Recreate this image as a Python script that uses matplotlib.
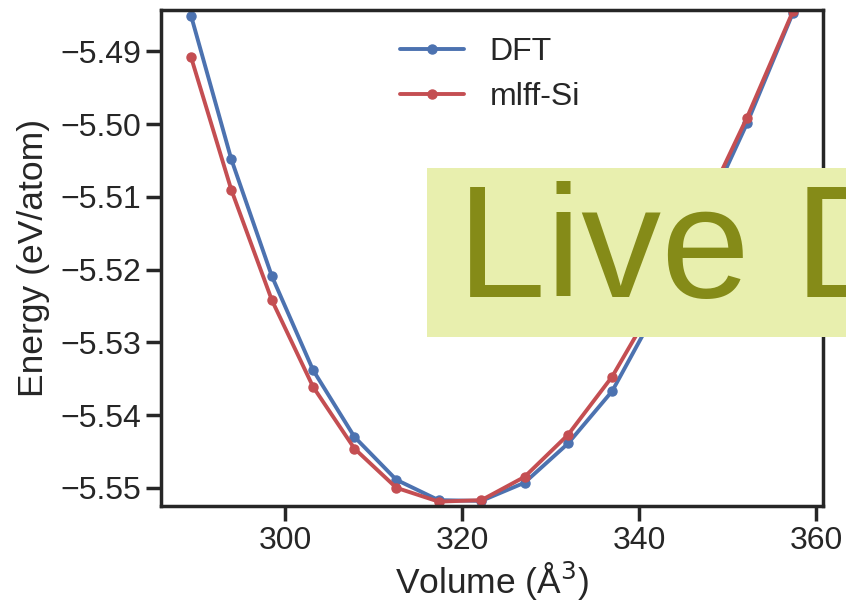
import matplotlib
matplotlib.use("Agg")
import matplotlib.pyplot as plt
import seaborn as sns
from matplotlib.patches import Rectangle

# equation of state scan
volume = [289.35, 293.89, 298.48, 303.13, 307.81, 312.55, 317.33, 322.16,
          327.04, 331.96, 336.95, 341.97, 347.06, 352.18, 357.37]
energy_dft = [-5.4851, -5.5048, -5.5209, -5.5338, -5.5430, -5.5489, -5.5517, -5.5518,
              -5.5493, -5.5439, -5.5367, -5.5255, -5.5134, -5.4999, -5.4847]
energy_mlff = [-5.4908, -5.5090, -5.5242, -5.5361, -5.5446, -5.5500, -5.5519, -5.5517,
               -5.5485, -5.5427, -5.5347, -5.5242, -5.5122, -5.4991, -5.4845]
labels = ["DFT", "mlff-Si"]
colors = ["#4C72B0", "#C44E52"]


def plot_eos():
    """
    Plot energy vs volume for DFT and the force field
    :return: None
    """
    sns.set_style("ticks")
    plt.rcParams["font.family"] = ["Liberation Sans", "DejaVu Sans"]
    plt.rcParams["axes.edgecolor"] = "#262626"

    fig = plt.figure(figsize=(8.46, 6.08), dpi=100)
    ax = fig.add_axes([0.1903, 0.1678, 0.7825, 0.8158])

    for ys, lab, col in zip([energy_dft, energy_mlff], labels, colors):
        ax.plot(volume, ys, "-o", color=col, label=lab, lw=2.8, ms=6.5)

    ax.set_ylim(-5.5525, -5.4843)
    ax.set_yticks([-5.55, -5.54, -5.53, -5.52, -5.51, -5.50, -5.49])
    ax.set_xticks([300, 320, 340, 360])
    ax.set_xlabel("Volume (Å$^3$)", fontsize=25.5, color="#262626", labelpad=3)
    ax.set_ylabel("Energy (eV/atom)", fontsize=25.5, color="#262626", labelpad=7)
    ax.tick_params(labelsize=23, length=11, width=2.5, colors="#262626")
    for sp in ax.spines.values():
        sp.set_linewidth(2.5)

    ax.legend(loc="upper left", bbox_to_anchor=(400 / 846, 1 - 37 / 608),
              bbox_transform=fig.transFigure, frameon=False, fontsize=23,
              borderpad=0, borderaxespad=0, handlelength=2.0, labelspacing=0.47)

    # the "Live Demo" banner sitting over the plot
    fig.patches.append(Rectangle((427 / 846, 1 - 337 / 608), 0.6, 169 / 608,
                                 transform=fig.transFigure, facecolor="#E8EFAE",
                                 edgecolor="none", zorder=5))
    fig.text(457 / 846, 1 - 297 / 608, "Live Demo", fontsize=115, color="#858B18",
             va="baseline", ha="left", zorder=6)

    plt.savefig("out.png", dpi=100)


plot_eos()
